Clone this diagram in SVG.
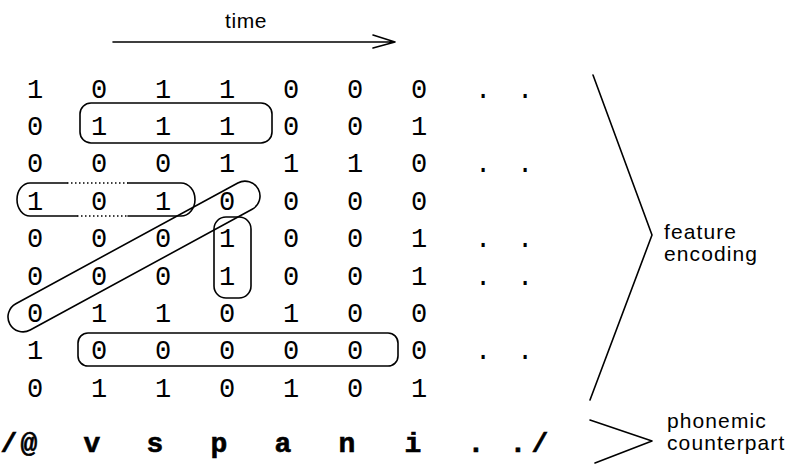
<svg xmlns="http://www.w3.org/2000/svg" width="792" height="464" viewBox="0 0 792 464">
  <style>
    .bit { font-family: "Liberation Mono", "DejaVu Sans Mono", monospace; font-size: 27px; fill: #000; text-anchor: middle; }
    .ph { font-family: "Liberation Mono", "DejaVu Sans Mono", monospace; font-size: 28px; font-weight: bold; fill: #000; stroke: #000; stroke-width: 0.6; text-anchor: middle; }
    .lbl { font-family: "Liberation Sans", Arial, sans-serif; font-size: 21px; letter-spacing: 1.1px; fill: #000; }
    .ln { fill: none; stroke: #000; stroke-width: 1.6; stroke-linecap: round; stroke-linejoin: round; }
    .dot { fill: none; stroke: #000; stroke-width: 1.4; stroke-dasharray: 1.5 2.5; }
  </style>
  <rect width="792" height="464" fill="#fff"/>

  <!-- time axis -->
  <g id="time-axis">
    <text class="lbl" x="225" y="28" style="letter-spacing:0.6px">time</text>
    <path class="ln" d="M113,42 H395 M373,35 L395,42 L373,48"/>
  </g>

  <!-- binary feature matrix: 9 feature rows, time runs left to right -->
  <g id="matrix">
    <text class="bit" x="35 99 163 227 291 355 419 483 525" y="97.5">1011000..</text>
    <text class="bit" x="35 99 163 227 291 355 419" y="134.9">0111001</text>
    <text class="bit" x="35 99 163 227 291 355 419 483 525" y="172.3">0001110..</text>
    <text class="bit" x="35 99 163 227 291 355 419" y="209.7">1010000</text>
    <text class="bit" x="35 99 163 227 291 355 419 483 525" y="247.1">0001001..</text>
    <text class="bit" x="35 99 163 227 291 355 419 483 525" y="284.5">0001001..</text>
    <text class="bit" x="35 99 163 227 291 355 419" y="321.9">0110100</text>
    <text class="bit" x="35 99 163 227 291 355 419 483 525" y="359.3">1000000..</text>
    <text class="bit" x="35 99 163 227 291 355 419" y="396.7">0110101</text>
  </g>

  <!-- outlined groupings of feature values -->
  <g id="groupings">
    <rect id="grp-row1" class="ln" x="80" y="103" width="192" height="40" rx="11"/>
    <g id="grp-row3">
      <path class="ln" d="M67,183 H30 A13,16.5 0 0 0 17,199.5 A13,16.5 0 0 0 30,216 H77"/>
      <path class="dot" d="M67,183 H128 M77,216 H128"/>
      <path class="ln" d="M128,183 H181 A14,16.5 0 0 1 195,199.5 A14,16.5 0 0 1 181,216 H128"/>
    </g>
    <rect id="grp-col3" class="ln" x="214" y="217" width="37" height="81" rx="12"/>
    <rect id="grp-diag" class="ln" x="-7.35" y="241.5" width="282.7" height="30" rx="15" transform="rotate(-28.55 134 256.5)"/>
    <rect id="grp-row7" class="ln" x="78" y="333" width="320" height="33" rx="10"/>
  </g>

  <!-- braces naming the two layers -->
  <g id="brackets">
    <path class="ln" d="M593,75 L652,235 L590,400"/>
    <path class="ln" d="M590,420 L652,441 L595,463"/>
  </g>
  <g id="labels">
    <text class="lbl" x="664" y="239">feature<tspan x="664" dy="22">encoding</tspan></text>
    <text class="lbl" x="667" y="428">phonemic<tspan x="667" dy="22">counterpart</tspan></text>
  </g>

  <!-- phonemic transcription under the matrix -->
  <g id="phonemes">
    <text class="ph" x="9 29 92 155 219 283 347 413 476 518 540" y="452">/@vspani../</text>
  </g>
</svg>
